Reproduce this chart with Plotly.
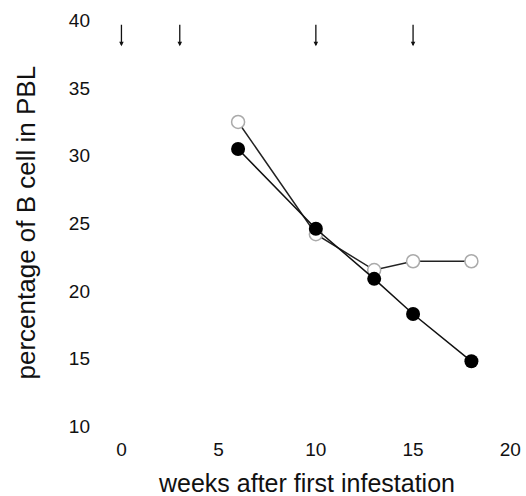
import plotly.graph_objects as go

weeks = [6, 10, 13, 15, 18]
filled_vals = [30.5, 24.6, 20.9, 18.3, 14.8]
open_vals = [32.5, 24.2, 21.55, 22.2, 22.2]
arrow_weeks = [0, 3, 10, 15]
arrow_top = 39.8
arrow_tip = 38.1
x_ticks = [0, 5, 10, 15, 20]
y_ticks = [10, 15, 20, 25, 30, 35, 40]
x_title = "weeks after first infestation"
y_title = "percentage of B cell in PBL"

font = "Liberation Sans, Arial, sans-serif"

fig = go.Figure()
fig.add_trace(go.Scatter(
    x=weeks, y=open_vals, mode="lines+markers",
    line=dict(color="#222", width=1.5),
    marker=dict(symbol="circle", size=13, color="white",
                line=dict(color="#aaa", width=1.5)),
    showlegend=False))
fig.add_trace(go.Scatter(
    x=weeks, y=filled_vals, mode="lines+markers",
    line=dict(color="#111", width=1.5),
    marker=dict(symbol="circle", size=14, color="black"),
    showlegend=False))

for w in arrow_weeks:
    fig.add_annotation(x=w, y=arrow_tip, ax=w, ay=arrow_top,
                       xref="x", yref="y", axref="x", ayref="y",
                       text="", showarrow=True, arrowhead=2,
                       arrowsize=0.7, arrowwidth=1.3, arrowcolor="#111")

fig.add_annotation(text=x_title, xref="paper", yref="paper", x=0.49, y=0,
                   xanchor="center", yanchor="top", yshift=-35,
                   showarrow=False, font=dict(size=25), borderpad=0)
fig.add_annotation(text=y_title, xref="paper", yref="paper", x=-0.182, y=0.494,
                   xanchor="center", yanchor="middle", textangle=-90,
                   showarrow=False, font=dict(size=26))

fig.update_layout(
    width=526, height=496,
    margin=dict(l=102, r=6, t=6.5, b=63),
    plot_bgcolor="white", paper_bgcolor="white",
    font=dict(family=font, size=19, color="#111"),
    xaxis=dict(range=[-1, 20.5], tickvals=x_ticks, showgrid=False,
               zeroline=False, showline=False, ticks="",
               ticklabelstandoff=3, automargin=False),
    yaxis=dict(range=[9.5, 41], tickvals=y_ticks, showgrid=False,
               zeroline=False, showline=False, ticks="",
               ticklabelstandoff=11, automargin=False),
)

fig.write_html("out.html")
